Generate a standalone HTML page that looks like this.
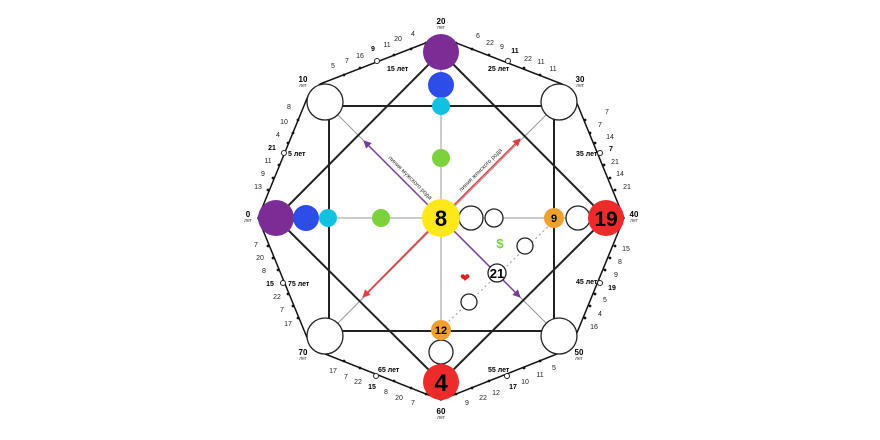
<!DOCTYPE html>
<html><head><meta charset="utf-8"><style>
body{margin:0;background:#fff;}
svg{display:block;font-family:"Liberation Sans",sans-serif;}
.s{font-size:5px;fill:#444;}
.n{font-size:7px;fill:#222;}
.b{font-size:7px;font-weight:bold;fill:#000;}
.a{font-size:8px;font-weight:bold;fill:#000;}
</style></head><body>
<svg width="880" height="440" viewBox="0 0 880 440">
<defs>
<marker id="mp" markerWidth="8" markerHeight="8" refX="7" refY="4" orient="auto" markerUnits="userSpaceOnUse"><path d="M0,0 L8,4 L0,8 z" fill="#7a3a9a"/></marker>
<marker id="mr" markerWidth="8" markerHeight="8" refX="7" refY="4" orient="auto" markerUnits="userSpaceOnUse"><path d="M0,0 L8,4 L0,8 z" fill="#e04040"/></marker>
</defs>
<polygon points="441,37 320,84 308,96 258,218 308,340 320,352 441,400 562,352 574,340 624,218 574,96 562,84" fill="none" stroke="#111" stroke-width="1.5"/>
<g fill="#111">
<circle cx="344" cy="75" r="1.4"/><circle cx="360" cy="68" r="1.4"/><circle cx="394" cy="55" r="1.4"/><circle cx="411" cy="49" r="1.4"/><circle cx="426" cy="43" r="1.4"/>
<circle cx="456" cy="43" r="1.4"/><circle cx="472" cy="49" r="1.4"/><circle cx="489" cy="55" r="1.4"/><circle cx="524" cy="68" r="1.4"/><circle cx="540" cy="75" r="1.4"/>
<circle cx="298" cy="120" r="1.4"/><circle cx="293" cy="133" r="1.4"/><circle cx="288" cy="143" r="1.4"/><circle cx="279" cy="165" r="1.4"/><circle cx="273" cy="178" r="1.4"/><circle cx="268" cy="190" r="1.4"/>
<circle cx="585" cy="120" r="1.4"/><circle cx="590" cy="133" r="1.4"/><circle cx="595" cy="143" r="1.4"/><circle cx="604" cy="165" r="1.4"/><circle cx="610" cy="178" r="1.4"/><circle cx="615" cy="190" r="1.4"/>
<circle cx="268" cy="246" r="1.4"/><circle cx="273" cy="258" r="1.4"/><circle cx="278" cy="270" r="1.4"/><circle cx="288" cy="294" r="1.4"/><circle cx="293" cy="306" r="1.4"/><circle cx="298" cy="318" r="1.4"/>
<circle cx="615" cy="246" r="1.4"/><circle cx="610" cy="258" r="1.4"/><circle cx="605" cy="270" r="1.4"/><circle cx="595" cy="294" r="1.4"/><circle cx="590" cy="306" r="1.4"/><circle cx="585" cy="318" r="1.4"/>
<circle cx="344" cy="361" r="1.4"/><circle cx="360" cy="368" r="1.4"/><circle cx="394" cy="381" r="1.4"/><circle cx="411" cy="388" r="1.4"/><circle cx="426" cy="394" r="1.4"/>
<circle cx="456" cy="394" r="1.4"/><circle cx="472" cy="388" r="1.4"/><circle cx="489" cy="381" r="1.4"/><circle cx="524" cy="368" r="1.4"/><circle cx="540" cy="361" r="1.4"/>
</g>
<g stroke="#999" stroke-width="1">
<line x1="441" y1="52" x2="441" y2="382"/>
<line x1="276" y1="218" x2="606" y2="218"/>
<line x1="325" y1="102" x2="559" y2="336"/>
<line x1="559" y1="102" x2="325" y2="336"/>
</g>
<rect x="329" y="106" width="225" height="225" fill="none" stroke="#222" stroke-width="2"/>
<polygon points="441,52 606,218 441,382 276,218" fill="none" stroke="#222" stroke-width="2"/>
<line x1="441" y1="218" x2="364" y2="141" stroke="#7a3a9a" stroke-width="1.5" marker-end="url(#mp)"/>
<line x1="441" y1="218" x2="520" y2="297" stroke="#7a3a9a" stroke-width="1.5" marker-end="url(#mp)"/>
<line x1="441" y1="218" x2="520" y2="139" stroke="#e04040" stroke-width="1.5" marker-end="url(#mr)"/>
<line x1="441" y1="218" x2="363" y2="297" stroke="#e04040" stroke-width="1.5" marker-end="url(#mr)"/>
<text font-size="6" fill="#333" transform="translate(388,158) rotate(45)">линия мужского рода</text>
<text font-size="6" fill="#333" transform="translate(461,192) rotate(-45)">линия женского рода</text>
<line x1="445" y1="325" x2="553" y2="222" stroke="#999" stroke-width="1" stroke-dasharray="2,3"/>
<g fill="#fff" stroke="#222" stroke-width="1.3">
<circle cx="325" cy="102" r="18"/><circle cx="559" cy="102" r="18"/>
<circle cx="325" cy="336" r="18"/><circle cx="559" cy="336" r="18"/>
<circle cx="471" cy="218" r="12"/><circle cx="494" cy="218" r="9"/>
<circle cx="578" cy="218" r="12"/><circle cx="441" cy="352" r="12"/>
<circle cx="525" cy="246" r="8"/><circle cx="469" cy="302" r="8"/>
<circle cx="497" cy="273" r="9"/>
</g>
<circle cx="441" cy="52" r="18" fill="#7b2d95"/>
<circle cx="441" cy="85" r="13" fill="#2d4de8"/>
<circle cx="441" cy="106" r="9" fill="#12c0e0"/>
<circle cx="441" cy="158" r="9" fill="#7ad33a"/>
<circle cx="276" cy="218" r="18" fill="#7b2d95"/>
<circle cx="306" cy="218" r="13" fill="#2d4de8"/>
<circle cx="328" cy="218" r="9" fill="#12c0e0"/>
<circle cx="381" cy="218" r="9" fill="#7ad33a"/>
<circle cx="441" cy="218" r="19" fill="#ffe81a"/>
<circle cx="606" cy="218" r="18" fill="#ee2b2b"/>
<circle cx="441" cy="382" r="18" fill="#ee2b2b"/>
<circle cx="554" cy="218" r="10" fill="#f0a030"/>
<circle cx="441" cy="330" r="10" fill="#f0a030"/>
<text x="441" y="226" font-size="22" font-weight="bold" text-anchor="middle">8</text>
<text x="606" y="226" font-size="21" font-weight="bold" text-anchor="middle">19</text>
<text x="441" y="391" font-size="24" font-weight="bold" text-anchor="middle">4</text>
<text x="554" y="222" font-size="11" font-weight="bold" text-anchor="middle">9</text>
<text x="441" y="334" font-size="11" font-weight="bold" text-anchor="middle">12</text>
<text x="497" y="278" font-size="13" font-weight="bold" text-anchor="middle">21</text>
<text x="500" y="248" font-size="13" font-weight="bold" fill="#7ad33a" text-anchor="middle">$</text>
<text x="465" y="282" font-size="12" fill="#e02020" text-anchor="middle">❤</text>
<g text-anchor="middle">
<text class="a" x="441" y="24">20</text><text class="s" x="441" y="29">лет</text>
<text class="a" x="303" y="82">10</text><text class="s" x="303" y="87">лет</text>
<text class="a" x="580" y="82">30</text><text class="s" x="580" y="87">лет</text>
<text class="a" x="248" y="217">0</text><text class="s" x="248" y="222">лет</text>
<text class="a" x="634" y="217">40</text><text class="s" x="634" y="222">лет</text>
<text class="a" x="303" y="355">70</text><text class="s" x="303" y="360">лет</text>
<text class="a" x="579" y="355">50</text><text class="s" x="579" y="360">лет</text>
<text class="a" x="441" y="414">60</text><text class="s" x="441" y="419">лет</text>
</g>
<g font-size="7" font-weight="bold">
<text x="387" y="71">15 лет</text><text x="488" y="71">25 лет</text>
<text x="288" y="156">5 лет</text><text x="576" y="156">35 лет</text>
<text x="288" y="286">75 лет</text><text x="576" y="284">45 лет</text>
<text x="378" y="372">65 лет</text><text x="488" y="372">55 лет</text>
</g>
<g fill="#fff" stroke="#222" stroke-width="1">
<circle cx="377" cy="61" r="2.5"/><circle cx="508" cy="61" r="2.5"/>
<circle cx="284" cy="153" r="2.5"/><circle cx="600" cy="153" r="2.5"/>
<circle cx="283" cy="283" r="2.5"/><circle cx="600" cy="283" r="2.5"/>
<circle cx="376" cy="376" r="2.5"/><circle cx="507" cy="376" r="2.5"/>
</g>
<g class="n" text-anchor="middle">
<text x="333" y="68">5</text><text x="347" y="63">7</text><text x="360" y="58">16</text><text class="b" x="373" y="51">9</text><text x="387" y="47">11</text><text x="398" y="41">20</text><text x="413" y="36">4</text>
<text x="478" y="38">6</text><text x="490" y="45">22</text><text x="502" y="49">9</text><text class="b" x="515" y="53">11</text><text x="528" y="61">22</text><text x="541" y="64">11</text><text x="553" y="71">11</text>
<text x="289" y="109">8</text><text x="284" y="124">10</text><text x="278" y="137">4</text><text class="b" x="272" y="150">21</text><text x="268" y="163">11</text><text x="263" y="176">9</text><text x="258" y="189">13</text>
<text x="607" y="114">7</text><text x="600" y="127">7</text><text x="610" y="139">14</text><text class="b" x="611" y="151">7</text><text x="615" y="164">21</text><text x="620" y="176">14</text><text x="627" y="189">21</text>
<text x="256" y="247">7</text><text x="260" y="260">20</text><text x="264" y="273">8</text><text class="b" x="270" y="286">15</text><text x="277" y="299">22</text><text x="282" y="312">7</text><text x="288" y="326">17</text>
<text x="626" y="251">15</text><text x="620" y="264">8</text><text x="616" y="277">9</text><text class="b" x="612" y="290">19</text><text x="605" y="302">5</text><text x="600" y="316">4</text><text x="594" y="329">16</text>
<text x="333" y="373">17</text><text x="346" y="379">7</text><text x="358" y="384">22</text><text class="b" x="372" y="389">15</text><text x="386" y="394">8</text><text x="399" y="400">20</text><text x="413" y="405">7</text>
<text x="467" y="405">9</text><text x="483" y="400">22</text><text x="496" y="395">12</text><text class="b" x="513" y="389">17</text><text x="525" y="384">10</text><text x="540" y="377">11</text><text x="554" y="370">5</text>
</g>
</svg>
</body></html>
